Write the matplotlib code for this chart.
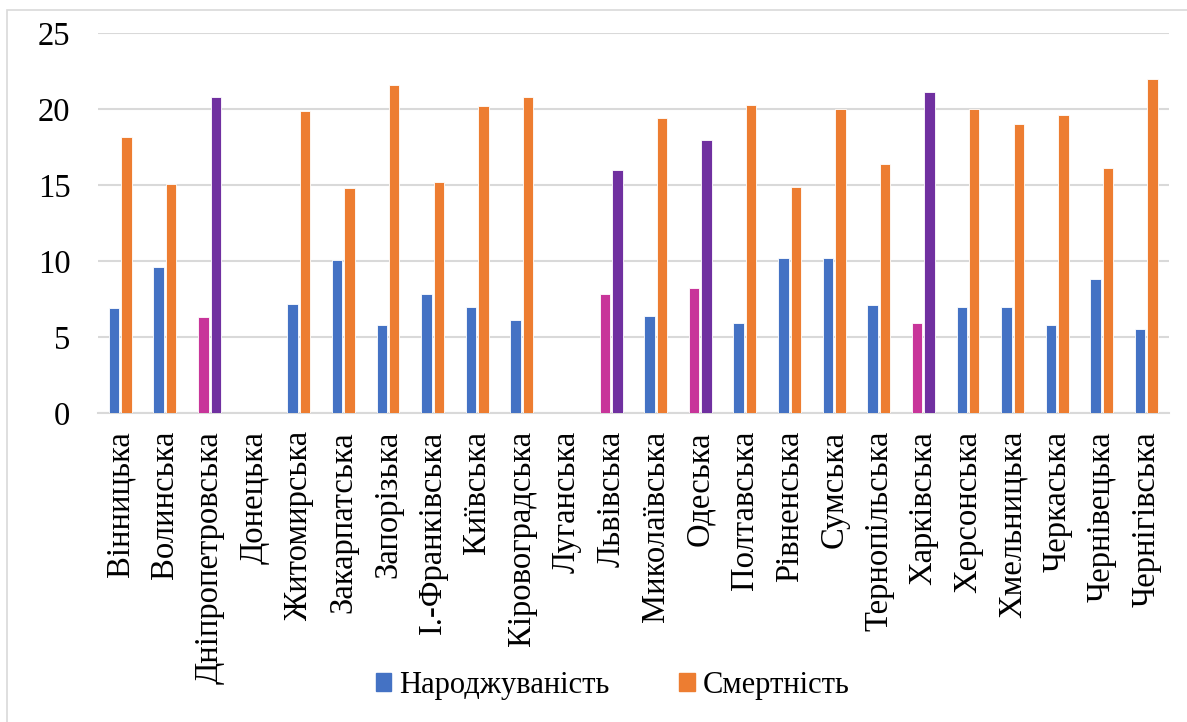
import matplotlib
matplotlib.use('Agg')
import matplotlib.pyplot as plt
import numpy as np
from matplotlib.patches import Rectangle, Patch

regions = ['Вінницька', 'Волинська', 'Дніпропетровська', 'Донецька', 'Житомирська',
           'Закарпатська', 'Запорізька', 'І.-Франківська', 'Київська', 'Кіровоградська',
           'Луганська', 'Львівська', 'Миколаївська', 'Одеська', 'Полтавська',
           'Рівненська', 'Сумська', 'Тернопільська', 'Харківська', 'Херсонська',
           'Хмельницька', 'Черкаська', 'Чернівецька', 'Чернігівська']
births = [6.9, 9.6, 6.3, 0, 7.2, 10.1, 5.8, 7.8, 7.0, 6.1, 0, 7.8, 6.4, 8.2, 5.9,
          10.2, 10.2, 7.1, 5.9, 7.0, 7.0, 5.8, 8.8, 5.5]
deaths = [18.2, 15.1, 20.8, 0, 19.9, 14.8, 21.6, 15.2, 20.2, 20.8, 0, 16.0, 19.4, 18.0, 20.3,
          14.9, 20.0, 16.4, 21.1, 20.0, 19.0, 19.6, 16.1, 22.0]
highlight = ['Дніпропетровська', 'Львівська', 'Одеська', 'Харківська']

blue, orange = '#4472C4', '#ED7D31'
magenta, purple = '#C8359A', '#7030A0'

plt.rcParams['font.family'] = ['Liberation Serif', 'DejaVu Serif']

fig = plt.figure(figsize=(11.87, 7.22), dpi=100)
ax = fig.add_axes([0.0826, 0.428, 0.902, 0.526])

x = np.arange(len(regions))
w = 0.235
bcol = [magenta if r in highlight else blue for r in regions]
dcol = [purple if r in highlight else orange for r in regions]
ax.bar(x - w / 2 - 0.022, births, w, color=bcol, edgecolor='white', linewidth=0.6, zorder=3)
ax.bar(x + w / 2 + 0.022, deaths, w, color=dcol, edgecolor='white', linewidth=0.6, zorder=3)

ax.set_xlim(-0.5, len(regions) - 0.5)
ax.set_ylim(0, 25)
ax.set_yticks([0, 5, 10, 15, 20, 25])
ax.set_xticks(x)
ax.set_xticklabels(regions, rotation=90, fontsize=23.5)
ax.tick_params(axis='y', labelsize=23.5, length=0, pad=20)
ax.tick_params(axis='x', length=0, pad=13)
ax.grid(axis='y', color='#D9D9D9', linewidth=1.5, zorder=0)
for s in ['top', 'right', 'left']:
    ax.spines[s].set_visible(False)
ax.spines['bottom'].set_color('#D9D9D9')
ax.spines['bottom'].set_linewidth(1.5)

handles = [Patch(color=blue), Patch(color=orange)]
fig.legend(handles, ['Народжуваність', 'Смертність'], loc='center',
           bbox_to_anchor=(0.516, 0.051), ncol=2, frameon=False, fontsize=22,
           handlelength=0.5, handleheight=0.5, handletextpad=0.25, columnspacing=2.3)

# chart-area border (runs off the right and bottom edges, as in the source)
fig.patches.append(Rectangle((0.0055, -0.1), 1.2, 1.086, transform=fig.transFigure,
                             fill=False, edgecolor='#D9D9D9', linewidth=1.2))

fig.savefig('out.png', dpi=100)
